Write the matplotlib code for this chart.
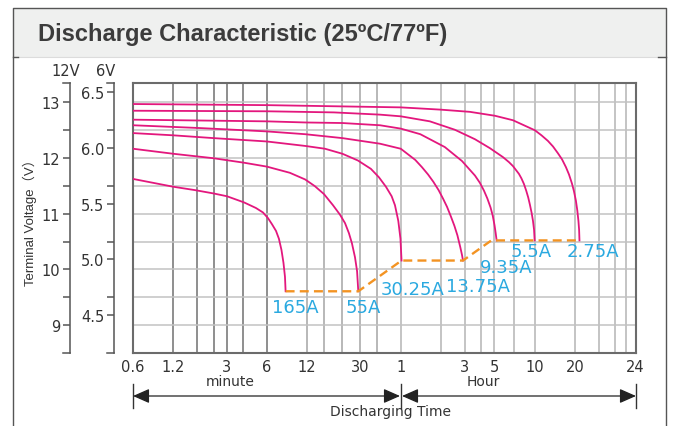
import matplotlib
matplotlib.use("Agg")
import matplotlib.pyplot as plt
from matplotlib.lines import Line2D
from matplotlib.patches import Rectangle
from matplotlib.ticker import NullLocator

# discharge curves: time in minutes, voltage on the 12V scale
t_2_75 = [0.6, 1.9, 6.0, 19, 60, 118, 197, 303, 413, 499, 603, 675, 754, 823, 895, 961,
          1028, 1083, 1139, 1180, 1220, 1249, 1274, 1289, 1297]
v_2_75 = [12.96, 12.95, 12.94, 12.92, 12.90, 12.86, 12.82, 12.75, 12.67, 12.58, 12.49, 12.40,
          12.30, 12.20, 12.08, 11.97, 11.83, 11.70, 11.54, 11.40, 11.23, 11.06, 10.87, 10.71, 10.52]

t_5_5 = [0.6, 6.0, 19, 42, 60, 99, 152, 215, 278, 348, 386, 413, 435, 458, 478, 499, 519,
         537, 553, 570, 583, 594, 600]
v_5_5 = [12.84, 12.83, 12.81, 12.77, 12.74, 12.65, 12.50, 12.33, 12.17, 12.01, 11.92, 11.85,
         11.78, 11.71, 11.63, 11.53, 11.41, 11.29, 11.16, 11.01, 10.87, 10.71, 10.52]

t_9_35 = [0.6, 6.0, 11.6, 22, 42, 60, 84, 128, 172, 215, 234, 251, 266, 281, 292, 301, 307, 312]
v_9_35 = [12.68, 12.65, 12.63, 12.62, 12.58, 12.52, 12.42, 12.19, 11.94, 11.68, 11.55, 11.41,
          11.27, 11.11, 10.96, 10.79, 10.65, 10.52]

t_13_75 = [0.6, 1.9, 6.0, 11.6, 22, 42, 60, 77, 86.4, 95.9, 105, 115, 124, 133, 142, 151,
           159, 167, 172, 175]
v_13_75 = [12.58, 12.53, 12.47, 12.42, 12.35, 12.25, 12.16, 11.96, 11.83, 11.70, 11.57, 11.42,
           11.27, 11.12, 10.95, 10.78, 10.61, 10.40, 10.26, 10.16]

t_30_25 = [0.6, 1.2, 2.4, 6.0, 11.6, 16.3, 22, 28.7, 35.9, 41.2, 46.5, 51.3, 54.3, 57.5, 59.7, 60.8]
v_30_25 = [12.44, 12.40, 12.35, 12.29, 12.21, 12.16, 12.07, 11.95, 11.80, 11.65, 11.48, 11.31,
           11.15, 10.87, 10.55, 10.16]

t_55 = [0.6, 1.2, 2.4, 4.05, 6.0, 8.9, 11.6, 13.7, 16.0, 18.7, 21.1, 23.0, 24.6, 25.9, 27.3, 28.3, 28.9]
v_55 = [12.16, 12.07, 11.99, 11.91, 11.84, 11.73, 11.61, 11.49, 11.35, 11.15, 10.98, 10.83,
        10.65, 10.47, 10.22, 9.97, 9.61]

t_165 = [0.6, 1.2, 1.74, 2.4, 3.02, 4.05, 4.97, 5.61, 6.11, 6.55, 7.02, 7.38, 7.71, 7.98, 8.19, 8.28]
v_165 = [11.62, 11.48, 11.42, 11.36, 11.31, 11.20, 11.10, 11.02, 10.92, 10.81, 10.69, 10.55,
         10.35, 10.12, 9.87, 9.61]

# end-of-discharge voltage line
cut_t = [8.28, 28.9, 60.8, 175, 285, 1297]
cut_v = [9.61, 9.61, 10.16, 10.16, 10.52, 10.52]

# current labels and where they sit (minutes, volts)
cur_labels = ["165A", "55A", "30.25A", "13.75A", "9.35A", "5.5A", "2.75A"]
cur_lab_t = [9.8, 31.5, 74, 226, 366, 563, 1635]
cur_lab_v = [9.32, 9.32, 9.65, 9.70, 10.04, 10.33, 10.33]

# x ticks
x_ticks = [0.6, 1.2, 3, 6, 12, 30, 60, 180, 300, 600, 1200, 3400]
x_labels = ["0.6", "1.2", "3", "6", "12", "30", "1", "3", "5", "10", "20", "24"]
grid_min = [1.2, 1.8, 2.4, 3, 4, 6]
grid_mid = [12, 16, 22, 30, 40]
grid_hour = [60, 120, 180, 240, 300, 420, 600, 1200, 1800, 2400, 2880]
grid_v = [9, 9.5, 10, 10.5, 11, 11.5, 12, 12.5, 13]

v12_major = [9, 10, 11, 12, 13]
v12_minor = [9.5, 10.5, 11.5, 12.5]
v6_major = [4.5, 5.0, 5.5, 6.0, 6.5]

W, H = 674, 427
fig = plt.figure(figsize=(W / 100, H / 100), dpi=100)


def box(l, t, r, b):
    return [l / W, 1 - b / H, (r - l) / W, (b - t) / H]


def fx(x):
    return x / W


def fy(y):
    return 1 - y / H


def pline(xs, ys, **kw):
    fig.add_artist(Line2D([fx(x) for x in xs], [fy(y) for y in ys],
                          transform=fig.transFigure, **kw))


# panel frame and header
fig.add_artist(Rectangle((fx(12.7), fy(57.5)), fx(666) - fx(12.7), fy(9.3) - fy(57.5),
                         transform=fig.transFigure, facecolor="#eff0ef", edgecolor="none"))
pline([12.7, 666], [57.5, 57.5], color="#dcdcdc", lw=0.8)
pline([12.7, 18], [57.5, 57.5], color="#555555", lw=1)
pline([658, 666], [57.5, 57.5], color="#555555", lw=1)
pline([12.7, 12.7, 666, 666], [427, 9.3, 9.3, 427], color="#555555", lw=1)
fig.text(fx(38), fy(35), "Discharge Characteristic (25\u00baC/77\u00baF)",
         fontsize=17, fontweight="bold", color="#3c3c3c", family="Liberation Sans",
         ha="left", va="center")

# main plot
ax = fig.add_axes(box(133, 84, 635.5, 354))
ax.set_xscale("log")
ax.set_xlim(0.6, 3400)
ax.set_ylim(8.506, 13.336)

for g in grid_min:
    ax.axvline(g, color="#707070", lw=1.1, zorder=1)
for g in grid_mid:
    ax.axvline(g, color="#a4a4a4", lw=1.1, zorder=1)
for g in grid_hour:
    ax.axvline(g, color="#b4b4b4", lw=1.1, zorder=1)
for g in grid_v:
    ax.axhline(g, color="#c2c2c2", lw=1.1, zorder=1)

pink = "#e3177d"
for t, v in [(t_2_75, v_2_75), (t_5_5, v_5_5), (t_9_35, v_9_35), (t_13_75, v_13_75),
             (t_30_25, v_30_25), (t_55, v_55), (t_165, v_165)]:
    ax.plot(t, v, color=pink, lw=1.3, zorder=3, solid_joinstyle="round")

ax.plot(cut_t, cut_v, color="#f39322", lw=1.7, dashes=(3.8, 2.2), zorder=4)

for lab, t, v in zip(cur_labels, cur_lab_t, cur_lab_v):
    ax.text(t, v, lab, color="#2aa9e0", fontsize=13, ha="center", va="center", zorder=5)

ax.set_xticks(x_ticks)
ax.set_xticklabels(x_labels)
ax.xaxis.set_minor_locator(NullLocator())
ax.set_yticks([])
ax.tick_params(axis="x", length=0, pad=4, labelsize=10.5, labelcolor="#333333")
for s in ax.spines.values():
    s.set_color("#6b6b6b")
    s.set_linewidth(1.5)

# voltage scales
a12 = fig.add_axes(box(63, 84, 70, 354))
a12.set_ylim(ax.get_ylim())
a12.set_yticks(v12_major)
a12.set_yticklabels([str(v) for v in v12_major])
a12.set_yticks(v12_minor, minor=True)

off = 0.18
a6 = fig.add_axes(box(107, 84, 114.3, 354))
lo, hi = ax.get_ylim()
a6.set_ylim((lo - off) / 2, (hi - off) / 2)
a6.set_yticks(v6_major)
a6.set_yticklabels([f"{v:.1f}" for v in v6_major])
a6.set_yticks([(v - off) / 2 for v in v12_minor], minor=True)

for a in (a12, a6):
    a.patch.set_alpha(0)
    a.set_xticks([])
    a.spines["left"].set_visible(False)
    for s in ("right", "top", "bottom"):
        a.spines[s].set_color("#555555")
        a.spines[s].set_linewidth(1.1)
    a.tick_params(axis="y", which="both", left=False, right=True, labelleft=True,
                  labelright=False, direction="in", length=5, width=1.1,
                  color="#555555", pad=2, labelsize=10.5, labelcolor="#333333")

fig.text(fx(66), fy(72), "12V", fontsize=10.5, color="#333333", ha="center", va="center")
fig.text(fx(106), fy(72), "6V", fontsize=10.5, color="#333333", ha="center", va="center")
fig.text(fx(30), fy(220), "Terminal Voltage\uff08V\uff09", rotation=90, fontsize=9.5,
         color="#333333", ha="center", va="center",
         family=["Liberation Sans", "Noto Sans CJK SC"])

# discharging time arrows
for x in (133, 401, 636):
    pline([x, x], [385, 409], color="#333333", lw=1)
arrow = dict(arrowstyle="<|-|>,head_length=0.5,head_width=0.22", color="#222222",
             lw=0.9, shrinkA=0, shrinkB=0, mutation_scale=20)
ax.annotate("", xy=(fx(133), fy(397)), xytext=(fx(400), fy(397)),
            xycoords="figure fraction", textcoords="figure fraction", arrowprops=arrow)
ax.annotate("", xy=(fx(402), fy(397)), xytext=(fx(636), fy(397)),
            xycoords="figure fraction", textcoords="figure fraction", arrowprops=arrow)
fig.text(fx(230), fy(382), "minute", fontsize=10, color="#333333", ha="center", va="center")
fig.text(fx(483), fy(382), "Hour", fontsize=10, color="#333333", ha="center", va="center")
fig.text(fx(390), fy(412), "Discharging Time", fontsize=10, color="#333333",
         ha="center", va="center")

fig.savefig("out.png", dpi=100)
